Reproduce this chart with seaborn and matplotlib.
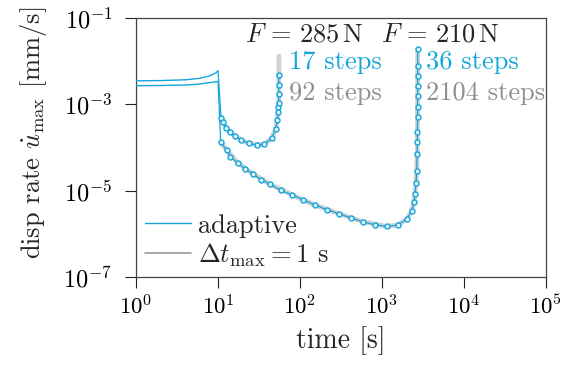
import numpy as np
import pandas as pd
import matplotlib
matplotlib.use("Agg")
import matplotlib.pyplot as plt
from matplotlib.lines import Line2D
import seaborn as sns

# ---------------- data ----------------
# F = 285 N, before the load step (no markers)
pre1_t = [1, 2, 4, 6, 8, 9.5, 10.0]
pre1_v = [3.5e-3, 3.55e-3, 3.7e-3, 4.0e-3, 4.6e-3, 5.4e-3, 6.0e-3]
# F = 285 N, adaptive steps
ad1_t = [10.0, 10.9, 11.35, 12.5, 14.1, 16.2, 19.2, 23.9, 29.9, 36.7, 45.1, 50.5,
         52.9, 54.0, 54.5, 54.9, 55.0, 55.1, 55.2]
ad1_v = [6.0e-3, 4.9e-4, 3.86e-4, 2.88e-4, 2.29e-4, 1.85e-4, 1.49e-4, 1.25e-4, 1.14e-4,
         1.20e-4, 1.63e-4, 2.69e-4, 4.3e-4, 6.8e-4, 8.9e-4, 1.1e-3, 1.74e-3, 2.87e-3, 4.9e-3]
# F = 285 N, fixed dt reference
ref1_t = [10.9, 12.5, 14.1, 16.2, 19.2, 23.9, 29.9, 36.7, 45.1, 50.5, 52.9, 54.0, 54.9,
          55.2, 55.5]
ref1_v = [4.9e-4, 2.88e-4, 2.29e-4, 1.85e-4, 1.49e-4, 1.25e-4, 1.14e-4, 1.20e-4, 1.63e-4,
          2.69e-4, 4.3e-4, 6.8e-4, 1.1e-3, 4.9e-3, 1.3e-2]

# F = 210 N, before the load step
pre2_t = [1, 2, 4, 6, 8, 9.5, 10.0]
pre2_v = [2.7e-3, 2.73e-3, 2.8e-3, 2.95e-3, 3.2e-3, 3.35e-3, 3.4e-3]
# F = 210 N, adaptive steps
ad2_t = [10.0, 10.8, 12.8, 14.1, 17.3, 21.1, 26.4, 33.4, 43.4, 58.7, 80.0, 109, 151, 212,
         297, 417, 584, 819, 1148, 1552, 2015, 2300, 2455, 2524, 2600, 2650, 2680, 2700,
         2705, 2710, 2712, 2714, 2716, 2718, 2720, 2722]
ad2_v = [3.4e-3, 1.32e-4, 8.7e-5, 6.07e-5, 4.49e-5, 3.25e-5, 2.48e-5, 1.80e-5, 1.40e-5,
         1.01e-5, 8.0e-6, 6.1e-6, 4.69e-6, 3.64e-6, 2.93e-6, 2.33e-6, 1.91e-6, 1.62e-6,
         1.48e-6, 1.60e-6, 2.20e-6, 3.44e-6, 5.38e-6, 8.5e-6, 1.53e-5, 2.86e-5, 7.0e-5,
         1.32e-4, 2.33e-4, 5.2e-4, 8.9e-4, 1.53e-3, 2.72e-3, 4.5e-3, 7.7e-3, 1.89e-2]
# F = 210 N, fixed dt reference
ref2_t = [10.8, 12.8, 17.3, 26.4, 43.4, 80.0, 151, 297, 584, 1148, 1552, 2015, 2300, 2455,
          2524, 2600, 2650, 2700, 2722, 2730]
ref2_v = [1.32e-4, 8.7e-5, 4.49e-5, 2.48e-5, 1.40e-5, 8.0e-6, 4.69e-6, 2.93e-6, 1.91e-6,
          1.48e-6, 1.60e-6, 2.20e-6, 3.44e-6, 5.38e-6, 8.5e-6, 1.53e-5, 2.86e-5, 1.32e-4,
          2.72e-3, 1.9e-2]

loads = ["$F\\,=\\,285\\,\\mathrm{N}$", "$F\\,=\\,210\\,\\mathrm{N}$"]
steps_adaptive = ["17 steps", "36 steps"]
steps_ref = ["92 steps", "2104 steps"]

# ---------------- style ----------------
sns.set_style("ticks")
plt.rcParams["font.family"] = ["cmr10", "DejaVu Serif"]
plt.rcParams["mathtext.fontset"] = "cm"
plt.rcParams["axes.formatter.use_mathtext"] = True
plt.rcParams["axes.unicode_minus"] = False

BLUE = "#12a6da"
GREY = "#8f8f8f"
LIGHT = "#d2d2d2"

fig = plt.figure(figsize=(5.7, 3.65), dpi=100)
ax = fig.add_axes([136 / 570, 1 - 277 / 365, 410 / 570, 259 / 365])

def draw(t, v, **kw):
    df = pd.DataFrame({"t": t, "v": v})
    sns.lineplot(data=df, x="t", y="v", sort=False, estimator=None, ax=ax, **kw)

for rt, rv in [(ref1_t, ref1_v), (ref2_t, ref2_v)]:
    draw(rt, rv, color=LIGHT, linewidth=3.5, zorder=1)
for pt, pv in [(pre1_t, pre1_v), (pre2_t, pre2_v)]:
    draw(pt, pv, color=BLUE, linewidth=1.0, zorder=3)
for at, av in [(ad1_t, ad1_v), (ad2_t, ad2_v)]:
    draw(at, av, color=BLUE, linewidth=0.9, zorder=3)
    dfm = pd.DataFrame({"t": at[1:], "v": av[1:]})
    ax.plot(dfm["t"], dfm["v"], linestyle="none", marker="o", markersize=3.6,
            markerfacecolor="#e6f6fc", markeredgecolor=BLUE, markeredgewidth=1.0, zorder=4)

ax.set_xscale("log")
ax.set_yscale("log")
ax.set_xlim(1, 1e5)
ax.set_ylim(1e-7, 1e-1)
ax.set_xticks([1e0, 1e1, 1e2, 1e3, 1e4, 1e5])
ax.set_yticks([1e-7, 1e-5, 1e-3, 1e-1])
ax.minorticks_off()
ax.tick_params(axis="both", which="major", direction="out", length=8, width=0.8,
               labelsize=16.5, colors="#222222", labelcolor="black", pad=4)
ax.tick_params(axis="y", labelsize=17.5, pad=9)
for s in ax.spines.values():
    s.set_visible(True)
    s.set_linewidth(0.9)
    s.set_color("#444444")

ax.set_xlabel("time [s]", fontsize=20, labelpad=6)
ax.set_ylabel("disp rate $\\dot{u}_{\\mathrm{max}}$ [mm/s]", fontsize=19)
ax.yaxis.set_label_coords(-0.212, 0.556)

# annotations
ax.text(21.5, 4.2e-2, loads[0], fontsize=19, ha="left", va="center")
ax.text(961, 4.2e-2, loads[1], fontsize=19, ha="left", va="center")
ax.text(74.2, 9.4e-3, steps_adaptive[0], fontsize=19, color=BLUE, ha="left", va="center")
ax.text(3412, 9.4e-3, steps_adaptive[1], fontsize=19, color=BLUE, ha="left", va="center")
ax.text(74.2, 1.77e-3, steps_ref[0], fontsize=19, color=GREY, ha="left", va="center")
ax.text(3412, 1.77e-3, steps_ref[1], fontsize=19, color=GREY, ha="left", va="center")

handles = [Line2D([], [], color=BLUE, linewidth=1.0),
           Line2D([], [], color="#999999", linewidth=1.2)]
ax.legend(handles, ["adaptive", "$\\Delta t_{\\mathrm{max}} = 1$ s"], loc="lower left",
          frameon=False, fontsize=19, handlelength=1.75, handletextpad=0.25,
          labelspacing=0.15, borderaxespad=0.0, borderpad=0.0,
          bbox_to_anchor=(9 / 410, 8 / 259))

fig.savefig("out.png", dpi=100)
